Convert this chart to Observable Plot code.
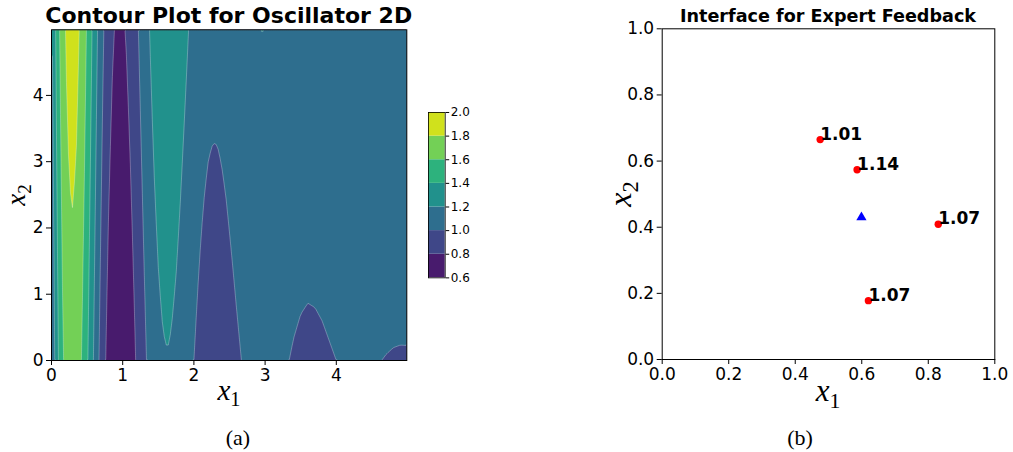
<!DOCTYPE html>
<html>
<head>
<meta charset="utf-8">
<script src="https://cdn.jsdelivr.net/npm/d3@7"></script>
<script src="https://cdn.jsdelivr.net/npm/@observablehq/plot@0.6"></script>
<style>
  body { margin: 0; background: #fff; }
  #fig { position: relative; width: 1013px; height: 452px; background: #fff; overflow: hidden; font-family: "DejaVu Sans", sans-serif; }
  .slot { position: absolute; }
  .slot svg { display: block; }
</style>
</head>
<body>
<div id="fig"></div>
<script>
// ---------- Panel (a): contour field, values read along x1 at the two edges x2 = 0 and x2 = 4.99 ----------
const levels = [0.6, 0.8, 1.0, 1.2, 1.4, 1.6, 1.8, 2.0];
const x2Rows = [0, 4.99];
const x1Samples = [
  0, 0.05, 0.10, 0.15, 0.20, 0.25, 0.30, 0.35, 0.40, 0.45,
  0.50, 0.55, 0.60, 0.65, 0.70, 0.75, 0.80, 0.85, 0.90, 0.95,
  1.00, 1.05, 1.10, 1.15, 1.20, 1.25, 1.30, 1.35, 1.40, 1.45,
  1.50, 1.55, 1.60, 1.65, 1.70, 1.75, 1.80, 1.85, 1.90, 1.95,
  2.00, 2.05, 2.10, 2.15, 2.20, 2.25, 2.30, 2.35, 2.40, 2.45,
  2.50, 2.55, 2.60, 2.65, 2.70, 2.75, 2.80, 2.85, 2.90, 2.95,
  3.00, 3.1, 3.2, 3.3, 3.4, 3.5, 3.6, 3.7, 3.8, 3.9,
  4.0, 4.1, 4.2, 4.3, 4.4, 4.5, 4.6, 4.7, 4.8, 4.9, 4.99
];
const zAtX2Bottom = [
  1.000, 1.222, 1.411, 1.559, 1.662, 1.720, 1.732, 1.703, 1.638, 1.544,
  1.429, 1.301, 1.170, 1.041, 0.922, 0.819, 0.736, 0.675, 0.638, 0.624,
  0.632, 0.660, 0.703, 0.759, 0.823, 0.890, 0.957, 1.020, 1.076, 1.123,
  1.158, 1.181, 1.193, 1.193, 1.180, 1.161, 1.134, 1.102, 1.068, 1.033,
  1.000, 0.970, 0.944, 0.924, 0.910, 0.903, 0.901, 0.905, 0.914, 0.926,
  0.942, 0.959, 0.977, 0.994, 1.011, 1.024, 1.036, 1.044, 1.049, 1.051,
  1.050, 1.040, 1.024, 1.006, 0.990, 0.979, 0.974, 0.976, 0.982, 0.991,
  1.000, 1.0075, 1.0121, 1.0134, 1.0117, 1.0079, 1.0016, 0.9972, 0.9942, 0.9930, 0.9932
];
const zAtX2Top = [
  1.150, 1.372, 1.561, 1.709, 1.812, 1.870, 1.882, 1.853, 1.788, 1.694,
  1.579, 1.451, 1.320, 1.191, 1.072, 0.969, 0.886, 0.825, 0.788, 0.774,
  0.782, 0.810, 0.853, 0.909, 0.973, 1.040, 1.107, 1.170, 1.226, 1.273,
  1.308, 1.331, 1.343, 1.343, 1.330, 1.311, 1.284, 1.252, 1.218, 1.183,
  1.150, 1.120, 1.094, 1.074, 1.060, 1.053, 1.051, 1.055, 1.064, 1.076,
  1.092, 1.109, 1.127, 1.144, 1.161, 1.174, 1.186, 1.194, 1.199, 1.201,
  1.200, 1.190, 1.174, 1.156, 1.140, 1.129, 1.124, 1.126, 1.132, 1.141,
  1.150, 1.1575, 1.1621, 1.1634, 1.1617, 1.1579, 1.1516, 1.1472, 1.1442, 1.1430, 1.1432
];
const contourTicks = [0, 1, 2, 3, 4];

// ---------- Panel (b): expert feedback points ----------
const feedbackX = [0.475, 0.586, 0.830, 0.620];
const feedbackY = [0.665, 0.574, 0.409, 0.178];
const feedbackLabels = ["1.01", "1.14", "1.07", "1.07"];
const queryX = [0.599];
const queryY = [0.430];
const unitTicks = [0, 0.2, 0.4, 0.6, 0.8, 1.0];

// ---------- build tables ----------
const zRows = [zAtX2Bottom, zAtX2Top];
const contourPts = [];
x2Rows.forEach((y, r) => x1Samples.forEach((x, i) => contourPts.push({x, y, z: zRows[r][i]})));
const nBands = levels.length - 1;
const bandColors = d3.range(nBands).map(i => d3.interpolateViridis((i + 0.5) / nBands));
const cbData = d3.range(nBands).map(i => ({lo: levels[i], hi: levels[i + 1], c: bandColors[i]}));
const feedback = feedbackX.map((x, i) => ({x, y: feedbackY[i], label: feedbackLabels[i]}));
const query = queryX.map((x, i) => ({x, y: queryY[i]}));

const fig = document.getElementById("fig");
function place(node, left, top) {
  const d = document.createElement("div");
  d.className = "slot";
  d.style.left = left + "px";
  d.style.top = top + "px";
  d.appendChild(node);
  fig.appendChild(d);
}
const baseStyle = {fontFamily: "DejaVu Sans", fontSize: "17px", color: "black", background: "transparent", overflow: "visible"};

// Panel (a)
const plotA = Plot.plot({
  width: 420, height: 420,
  marginLeft: 51, marginRight: 13.7, marginTop: 29.3, marginBottom: 60,
  style: baseStyle,
  x: {domain: [0, 4.99]},
  y: {domain: [0, 4.99]},
  color: {type: "threshold", domain: levels.slice(1, -1), range: bandColors},
  marks: [
    Plot.contour(contourPts, {
      x: "x", y: "y", fill: "z",
      thresholds: levels.slice(0, -1),
      interpolate: "barycentric",
      x1: 0, y1: 0, x2: 4.99, y2: 4.99,
      stroke: "white", strokeOpacity: 0.4, strokeWidth: 0.7
    }),
    Plot.frame({stroke: "black", strokeWidth: 1}),
    Plot.axisX({ticks: contourTicks, tickFormat: d3.format("d"), tickSize: 5, tickPadding: 3, fontSize: 17, label: null}),
    Plot.axisY({ticks: contourTicks, tickFormat: d3.format("d"), tickSize: 5, tickPadding: 3, fontSize: 17, label: null})
  ]
});
place(plotA, 0, 0);

// Colorbar
const plotCB = Plot.plot({
  width: 74.7, height: 185.4,
  marginLeft: 0, marginRight: 58, marginTop: 10, marginBottom: 10,
  style: {...baseStyle, fontSize: "12px"},
  y: {domain: [0.6, 2.0]},
  marks: [
    Plot.rect(cbData, {y1: "lo", y2: "hi", fill: "c"}),
    Plot.frame({stroke: "black", strokeWidth: 0.8}),
    Plot.axisY({anchor: "right", ticks: levels, tickFormat: d3.format(".1f"), tickSize: 3.5, tickPadding: 2, fontSize: 12, label: null})
  ]
});
place(plotCB, 428.3, 102.3);

// Panel (b)
const plotB = Plot.plot({
  width: 423, height: 420,
  marginLeft: 71.7, marginRight: 18.7, marginTop: 28.3, marginBottom: 61,
  style: baseStyle,
  x: {domain: [0, 1]},
  y: {domain: [0, 1]},
  marks: [
    Plot.frame({stroke: "black", strokeWidth: 1}),
    Plot.axisX({ticks: unitTicks, tickFormat: d3.format(".1f"), tickSize: 5, tickPadding: 3, fontSize: 17, label: null}),
    Plot.axisY({ticks: unitTicks, tickFormat: d3.format(".1f"), tickSize: 5, tickPadding: 3, fontSize: 17, label: null}),
    Plot.dot(feedback, {x: "x", y: "y", r: 3.7, fill: "red", stroke: "none"}),
    Plot.dot(query, {x: "x", y: "y", r: 3.8, symbol: "triangle", fill: "blue", stroke: "none"}),
    Plot.text(feedback, {x: "x", y: "y", text: "label", textAnchor: "start", lineAnchor: "bottom", dx: 0, fontWeight: "bold", fontSize: 17, fill: "black"})
  ]
});
place(plotB, 590, 0);

// ---------- overlay text: titles, axis labels, captions ----------
const ns = "http://www.w3.org/2000/svg";
const ov = document.createElementNS(ns, "svg");
ov.setAttribute("width", 1013); ov.setAttribute("height", 452);
ov.style.position = "absolute"; ov.style.left = "0px"; ov.style.top = "0px"; ov.style.pointerEvents = "none";
fig.appendChild(ov);
function txt(x, y, content, attrs = {}, rotate = false) {
  const t = document.createElementNS(ns, "text");
  if (rotate) t.setAttribute("transform", `translate(${x},${y}) rotate(-90)`);
  else { t.setAttribute("x", x); t.setAttribute("y", y); }
  for (const k in attrs) t.setAttribute(k, attrs[k]);
  if (typeof content === "string") t.textContent = content;
  else content.forEach(([s, a]) => {
    const sp = document.createElementNS(ns, "tspan");
    for (const k in a) sp.setAttribute(k, a[k]);
    sp.textContent = s;
    t.appendChild(sp);
  });
  ov.appendChild(t);
}
const serif = "'Liberation Serif', 'DejaVu Serif', serif";
function mathLabel(x, y, sub, size, rotate) {
  txt(x, y, [["x", {"font-style": "italic"}], [sub, {"font-size": (size * 0.7) + "px", dy: (size * 0.22) + "px"}]],
      {"font-family": serif, "font-size": size + "px", "text-anchor": "middle", fill: "black"}, rotate);
}
txt(228.7, 22.7, "Contour Plot for Oscillator 2D", {"font-family": "DejaVu Sans", "font-weight": "bold", "font-size": "22px", "text-anchor": "middle"});
txt(828, 21.6, "Interface for Expert Feedback", {"font-family": "DejaVu Sans", "font-weight": "bold", "font-size": "17.6px", "text-anchor": "middle"});
mathLabel(229, 400, "1", 29, false);
mathLabel(828, 401, "1", 31, false);
mathLabel(25, 195, "2", 27, true);
mathLabel(631, 194, "2", 32, true);
txt(238, 445, "(a)", {"font-family": serif, "font-size": "22px", "text-anchor": "middle"});
txt(800, 445, "(b)", {"font-family": serif, "font-size": "22px", "text-anchor": "middle"});
</script>
</body>
</html>
